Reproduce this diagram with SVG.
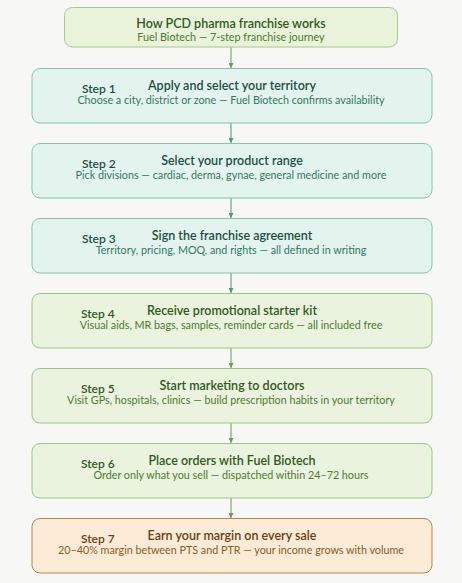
<svg xmlns="http://www.w3.org/2000/svg" width="462" height="583" viewBox="0 0 462 583">
<defs>
<style>
text{font-family:Lato,"Liberation Sans",sans-serif;text-anchor:middle}
.h{font-size:12.5px;font-weight:600}
.s{font-size:10.75px}
.lab{font-size:12px;font-weight:600;text-anchor:start}
.teal rect{fill:#e3f4ee;stroke:#85c4ab}
.teal .h,.teal .lab{fill:#1d4f3f}
.teal .s{fill:#2f7a5f}
.green rect{fill:#eaf3de;stroke:#9cc585}
.green .h,.green .lab{fill:#2f5a1c}
.green .s{fill:#4a7c2c}
.orange rect{fill:#fcebd7;stroke:#b9834a}
.orange .h,.orange .lab{fill:#6a3e12}
.orange .s{fill:#8a5a22}
.edge{stroke-width:1;fill:none}
.et{stroke:#4f9580;marker-end:url(#aht)}
.eg{stroke:#6f9a55;marker-end:url(#ahg)}
</style>
<marker id="aht" viewBox="0 0 6 6" refX="6" refY="3" markerWidth="5" markerHeight="5" orient="auto"><path d="M0,0 L6,3 L0,6 z" fill="#4f9580"/></marker>
<marker id="ahg" viewBox="0 0 6 6" refX="6" refY="3" markerWidth="5" markerHeight="5" orient="auto"><path d="M0,0 L6,3 L0,6 z" fill="#6f9a55"/></marker>
</defs>
<rect width="462" height="583" fill="#f7f7f5"/>
<g id="connectors">
<line class="edge eg" x1="231" y1="47" x2="231" y2="68"/>
<line class="edge et" x1="231" y1="123" x2="231" y2="143"/>
<line class="edge et" x1="231" y1="198" x2="231" y2="218"/>
<line class="edge et" x1="231" y1="273" x2="231" y2="293"/>
<line class="edge eg" x1="231" y1="348" x2="231" y2="368"/>
<line class="edge eg" x1="231" y1="423" x2="231" y2="443"/>
<line class="edge eg" x1="231" y1="498" x2="231" y2="518"/>
</g>
<g id="title" class="green">
<rect x="64.5" y="7.5" width="333" height="39.5" rx="8" style="fill:#e9f3da;stroke:#a8c98e"/>
<text class="h" x="231" y="27.5">How PCD pharma franchise works</text>
<text class="s" x="231" y="41">Fuel Biotech — 7-step franchise journey</text>
</g>
<g id="step1" class="teal">
<rect x="32" y="68.5" width="400" height="54.5" rx="8"/>
<text class="lab" x="82" y="92.5">Step 1</text>
<text class="h" x="232" y="90">Apply and select your territory</text>
<text class="s" x="231" y="104">Choose a city, district or zone — Fuel Biotech confirms availability</text>
</g>
<g id="step2" class="teal">
<rect x="32" y="143.5" width="400" height="54.5" rx="8"/>
<text class="lab" x="82" y="167.5">Step 2</text>
<text class="h" x="232" y="165">Select your product range</text>
<text class="s" x="231" y="179">Pick divisions — cardiac, derma, gynae, general medicine and more</text>
</g>
<g id="step3" class="teal">
<rect x="32" y="218.5" width="400" height="54.5" rx="8"/>
<text class="lab" x="82" y="242.5">Step 3</text>
<text class="h" x="232" y="240">Sign the franchise agreement</text>
<text class="s" x="231" y="254">Territory, pricing, MOQ, and rights — all defined in writing</text>
</g>
<g id="step4" class="green">
<rect x="32" y="293.5" width="400" height="54.5" rx="8"/>
<text class="lab" x="81" y="317.5">Step 4</text>
<text class="h" x="232" y="315">Receive promotional starter kit</text>
<text class="s" x="231" y="329">Visual aids, MR bags, samples, reminder cards — all included free</text>
</g>
<g id="step5" class="green">
<rect x="32" y="368.5" width="400" height="54.5" rx="8"/>
<text class="lab" x="81" y="392.5">Step 5</text>
<text class="h" x="232" y="390">Start marketing to doctors</text>
<text class="s" x="231" y="404">Visit GPs, hospitals, clinics — build prescription habits in your territory</text>
</g>
<g id="step6" class="green">
<rect x="32" y="443.5" width="400" height="54.5" rx="8"/>
<text class="lab" x="81" y="467.5">Step 6</text>
<text class="h" x="232" y="465">Place orders with Fuel Biotech</text>
<text class="s" x="231" y="479">Order only what you sell — dispatched within 24–72 hours</text>
</g>
<g id="step7" class="orange">
<rect x="32" y="518.5" width="400" height="54.5" rx="8"/>
<text class="lab" x="81" y="542.5">Step 7</text>
<text class="h" x="232" y="540">Earn your margin on every sale</text>
<text class="s" x="231" y="554">20–40% margin between PTS and PTR — your income grows with volume</text>
</g>
</svg>
